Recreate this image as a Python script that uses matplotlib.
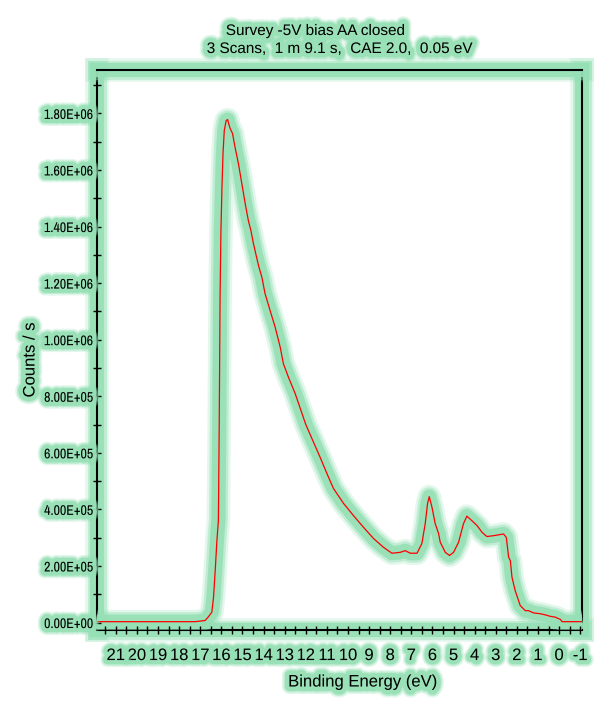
import numpy as np
import matplotlib
matplotlib.use("Agg")
import matplotlib.pyplot as plt
import matplotlib.patheffects as pe
from matplotlib import font_manager

# binding energy (eV) and counts/s
energy = [21.89, 17.24, 16.77, 16.63, 16.45, 16.37, 16.29, 16.21, 16.14, 16.10,
          16.06, 16.02, 15.97, 15.92, 15.86, 15.77, 15.70, 15.66, 15.58, 15.47,
          15.35, 15.19, 15.03, 14.87, 14.72, 14.60, 14.48, 14.24, 14.08, 13.93,
          13.69, 13.45, 13.21, 13.06, 12.82, 12.50, 12.00, 11.32, 11.00, 10.69,
          10.21, 9.74, 9.27, 8.79, 8.32, 7.92, 7.53, 7.29, 7.05, 6.73,
          6.50, 6.34, 6.23, 6.15, 6.02, 5.87, 5.71, 5.63, 5.39, 5.19,
          5.00, 4.76, 4.53, 4.37, 4.13, 3.89, 3.65, 3.42, 3.10, 2.63,
          2.50, 2.39, 2.31, 2.23, 2.08, 1.84, 1.60, 1.45, 1.21, 0.89,
          0.65, 0.42, 0.18, -0.06, -0.14, -1.09]
counts = [3000, 3000, 7000, 18700, 36400, 89400, 184000, 290000, 360000, 700000,
          1150000, 1380000, 1540000, 1660000, 1740000, 1775000, 1778000, 1765000, 1746000, 1729000,
          1680000, 1622000, 1552000, 1481000, 1421000, 1386000, 1340000, 1262000, 1221000, 1163000,
          1103000, 1044000, 973000, 915000, 867000, 809000, 700000, 584000, 527000, 474000,
          421000, 378000, 337000, 297000, 266000, 245000, 248000, 254000, 245000, 245000,
          279000, 350000, 421000, 445000, 407000, 350000, 315000, 284000, 248000, 237000,
          248000, 284000, 349000, 376000, 360000, 343000, 319000, 304000, 307000, 313000,
          301000, 231000, 219000, 160000, 113000, 60000, 42000, 42000, 34000, 31000,
          27000, 22000, 19000, 11000, 3000, 3000]

x_major = list(range(-1, 22))
y_major = [0, 200000, 400000, 600000, 800000, 1000000, 1200000, 1400000, 1600000, 1800000]

title1 = "Survey -5V bias AA closed"
title2 = "3 Scans,  1 m 9.1 s,  CAE 2.0,  0.05 eV"

GLOW = "#96e0b6"


def glow(w):
    return [pe.Stroke(linewidth=w, foreground=GLOW, alpha=0.25),
            pe.Stroke(linewidth=w * 0.8, foreground=GLOW, alpha=0.45),
            pe.Stroke(linewidth=w * 0.6, foreground=GLOW, alpha=0.9),
            pe.Normal()]


# look for a condensed face for the y tick labels
narrow, stretch, ysize = "Liberation Sans", "normal", 8.5
for f in font_manager.fontManager.ttflist:
    if "Narrow" in f.name or "Condensed" in f.name:
        narrow, stretch, ysize = f.name, "normal", 10.0
        break
    if f.stretch in ("condensed", "semi-condensed") and f.name in (
            "Liberation Sans", "DejaVu Sans", "Roboto", "Open Sans", "Noto Sans"):
        narrow, stretch, ysize = f.name, f.stretch, 10.0

plt.rcParams["font.family"] = ["Liberation Sans", "DejaVu Sans"]

fig = plt.figure(figsize=(6.14, 7.16), dpi=100)
ax = fig.add_axes([0.158, 0.1201, 0.790, 0.782])

ax.plot(energy, counts, color="red", lw=0.9, path_effects=glow(17))

ax.set_xlim(21.89, -1.09)
ax.set_ylim(-26500, 1953000)

ax.set_xticks(x_major)
ax.set_xticklabels([str(v) for v in x_major])
ax.set_xticks(np.arange(-1, 21.6, 0.5), minor=True)
ax.set_yticks(y_major)
ax.set_yticklabels([f"{v:.2E}" for v in y_major])
ax.set_yticks(np.arange(0, 1950000, 100000), minor=True)

ax.tick_params(axis="x", which="both", direction="inout", length=6, width=1, pad=10,
               labelsize=12, top=False)
ax.tick_params(axis="y", which="both", direction="inout", length=6, width=1, pad=0,
               labelsize=ysize, right=False)
for lab in ax.get_xticklabels():
    lab.set_path_effects(glow(10))
for lab in ax.get_yticklabels():
    lab.set_family(narrow)
    lab.set_stretch(stretch)
    lab.set_path_effects(glow(10))

for s in ax.spines.values():
    s.set_linewidth(1.5)
    s.set_zorder(1)
    s.set_path_effects(glow(17))
ax.xaxis.set_zorder(3)
ax.yaxis.set_zorder(3)

fig.text(315 / 614, 1 - 31 / 716, title1, ha="center", va="center", fontsize=11,
         path_effects=glow(11))
fig.text(339 / 614, 1 - 49 / 716, title2, ha="center", va="center", fontsize=11,
         path_effects=glow(11))
fig.text(363 / 614, 1 - 682 / 716, "Binding Energy (eV)", ha="center", va="center",
         fontsize=12, path_effects=glow(11))
fig.text(30 / 614, 1 - 360 / 716, "Counts / s", ha="center", va="center",
         rotation=90, fontsize=12, path_effects=glow(11))

fig.savefig("out.png", dpi=100)
